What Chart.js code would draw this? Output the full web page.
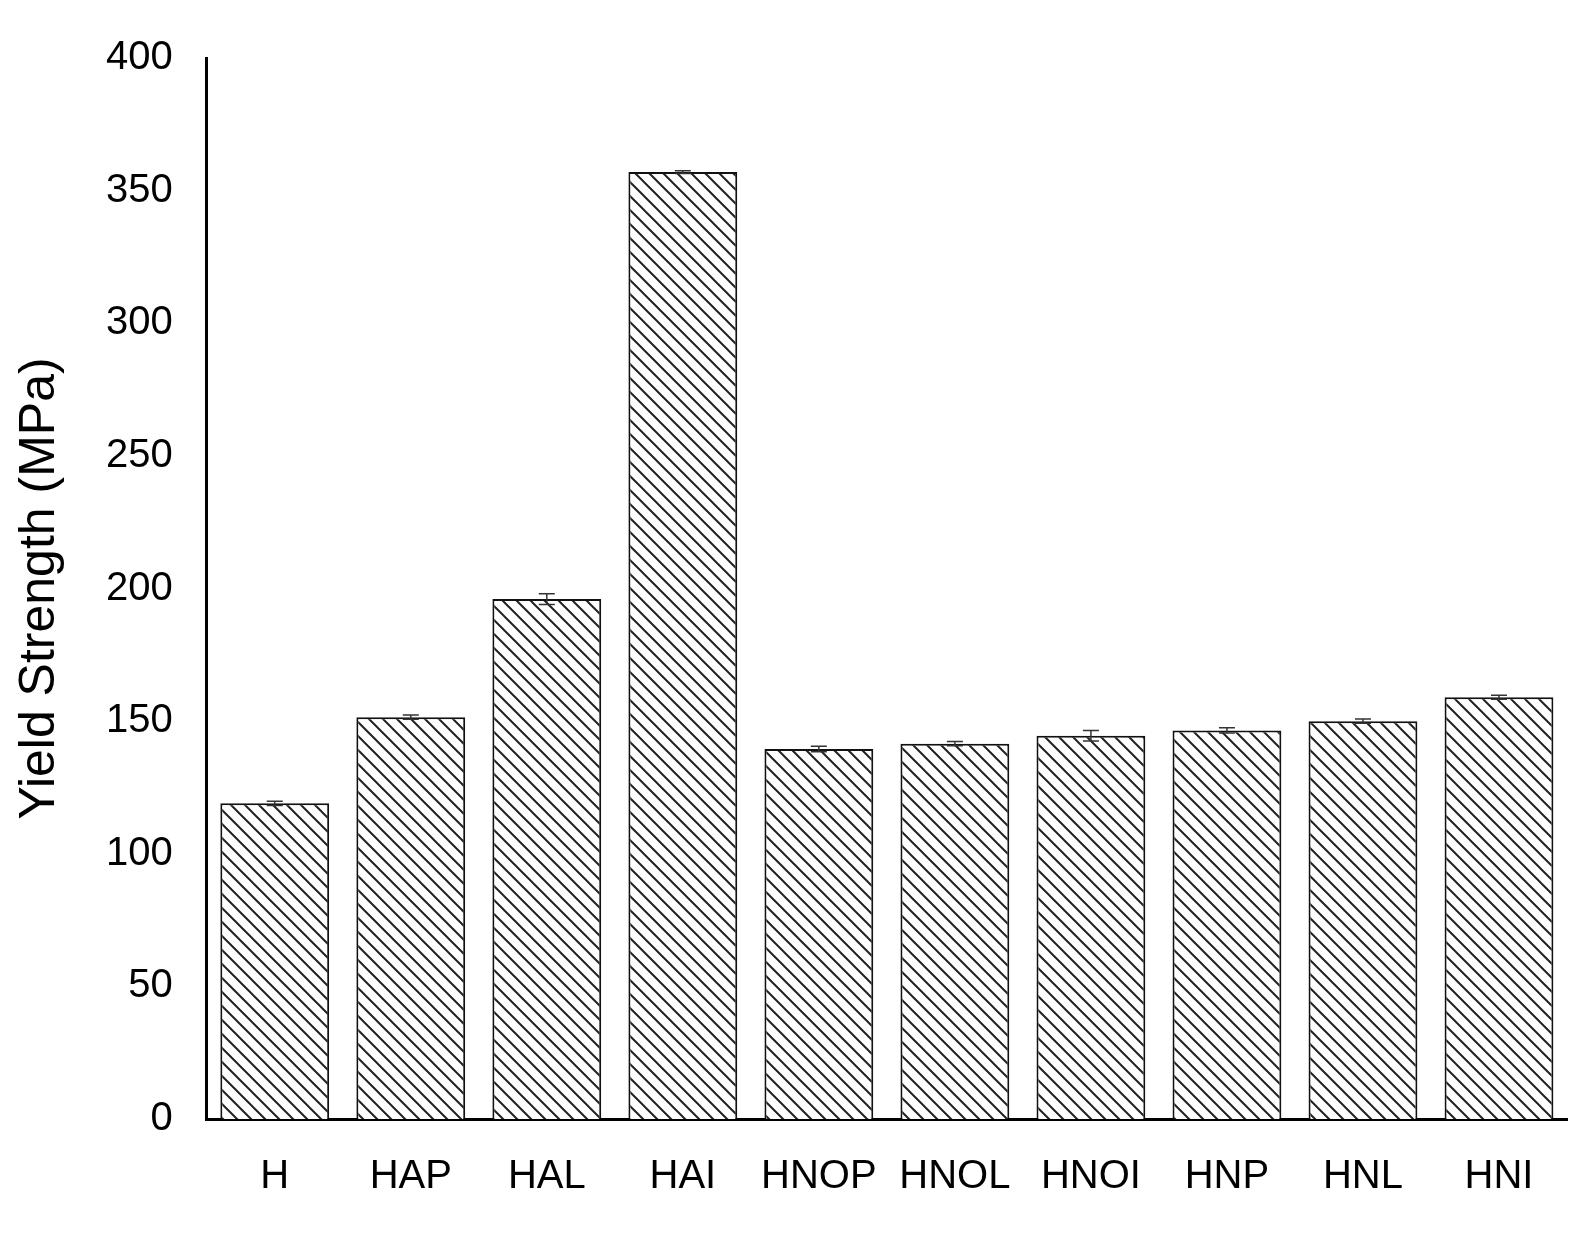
<!DOCTYPE html>
<html>
<head>
<meta charset="utf-8">
<script src="https://cdn.jsdelivr.net/npm/chart.js@4"></script>
<style>
  body { margin: 0; background: #fff; }
  #wrap { width: 1595px; height: 1243px; }
</style>
</head>
<body>
<div id="wrap"><canvas id="chart"></canvas></div>
<script>
// Data
const categories = ['H', 'HAP', 'HAL', 'HAI', 'HNOP', 'HNOL', 'HNOI', 'HNP', 'HNL', 'HNI'];
const yieldStrength = [119, 151.5, 196, 357, 139.5, 141.5, 144.5, 146.5, 150, 159];
const errors = [0.8, 0.8, 2, 0.5, 1, 0.8, 2, 1, 0.8, 0.8];
const yTicks = [0, 50, 100, 150, 200, 250, 300, 350, 400];

// Diagonal hatch fill (lines running top-left to bottom-right)
function makeHatch() {
    const size = 14;
    const c = document.createElement('canvas');
    c.width = size; c.height = size;
    const g = c.getContext('2d');
    g.fillStyle = '#fff';
    g.fillRect(0, 0, size, size);
    g.strokeStyle = '#222';
    g.lineWidth = 2;
    g.beginPath();
    g.moveTo(0, 0); g.lineTo(size, size);
    g.moveTo(0, -size); g.lineTo(size * 2, size);
    g.moveTo(-size, 0); g.lineTo(size, size * 2);
    g.stroke();
    return document.createElement('canvas').getContext('2d').createPattern(c, 'repeat');
}

// Draw error bars on top of the bars using the y scale
const errorBars = {
    id: 'errorBars',
    afterDatasetsDraw(chart) {
        const ctx = chart.ctx;
        const y = chart.scales.y;
        const meta = chart.getDatasetMeta(0);
        ctx.save();
        ctx.strokeStyle = '#333';
        ctx.lineWidth = 1.5;
        meta.data.forEach((bar, i) => {
            const top = y.getPixelForValue(yieldStrength[i] + errors[i]);
            const bot = y.getPixelForValue(yieldStrength[i] - errors[i]);
            ctx.beginPath();
            ctx.moveTo(bar.x, top); ctx.lineTo(bar.x, bot);
            ctx.moveTo(bar.x - 8, top); ctx.lineTo(bar.x + 8, top);
            ctx.moveTo(bar.x - 8, bot); ctx.lineTo(bar.x + 8, bot);
            ctx.stroke();
        });
        ctx.restore();
    }
};

new Chart(document.getElementById('chart'), {
    type: 'bar',
    data: {
        labels: categories,
        datasets: [{
            data: yieldStrength,
            backgroundColor: makeHatch(),
            borderColor: '#111',
            borderWidth: 2,
            barPercentage: 0.8,
            categoryPercentage: 1
        }]
    },
    options: {
        responsive: true,
        maintainAspectRatio: false,
        animation: false,
        layout: { padding: { top: 22, right: 28, bottom: 8, left: 8 } },
        plugins: { legend: { display: false }, tooltip: { enabled: false } },
        scales: {
            x: {
                grid: { display: false, drawTicks: false },
                border: { color: '#000', width: 3 },
                ticks: { color: '#000', font: { family: 'Liberation Sans', size: 40 }, padding: 34, maxRotation: 0, autoSkip: false }
            },
            y: {
                min: 0, max: 400,
                afterBuildTicks: axis => { axis.ticks = yTicks.map(v => ({ value: v })); },
                grid: { display: false, drawTicks: false },
                border: { color: '#000', width: 3 },
                ticks: { color: '#000', font: { family: 'Liberation Sans', size: 40 }, padding: 34 },
                title: { display: true, text: 'Yield Strength (MPa)', color: '#000', font: { family: 'Liberation Sans', size: 50 }, padding: 2 }
            }
        }
    },
    plugins: [errorBars]
});
</script>
</body>
</html>
